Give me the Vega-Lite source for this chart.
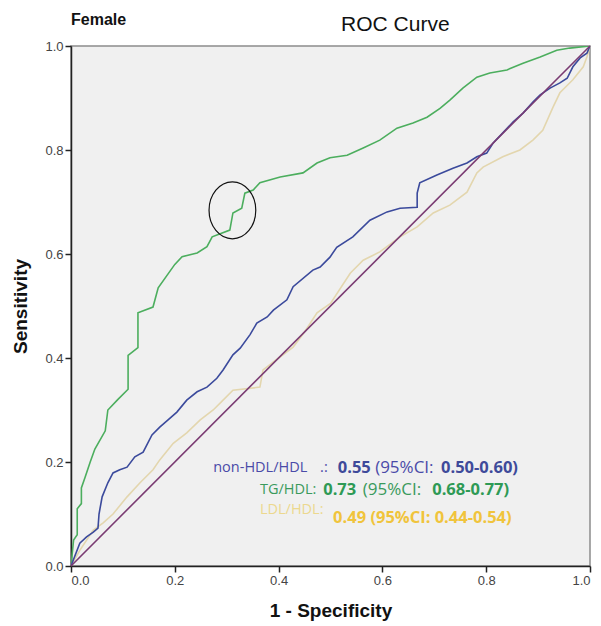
{
  "$schema": "https://vega.github.io/schema/vega-lite/v6.json",
  "width": 519,
  "height": 520,
  "autosize": {"type": "none"},
  "padding": {"left": 71, "top": 46, "right": 11, "bottom": 60},
  "background": "white",
  "config": {
    "view": {"fill": "#f0f0f0", "stroke": "#8c8c8c", "strokeWidth": 1.5},
    "axis": {"domainColor": "#222", "domainWidth": 1.5, "tickColor": "#222", "tickWidth": 1.5, "tickSize": 6, "labelFont": "Liberation Sans", "labelFontSize": 13, "labelColor": "#444", "titleFont": "Liberation Sans", "titleFontSize": 19, "titleFontWeight": "bold", "titleColor": "#111", "grid": false}
  },
  "datasets": {
    "curves": [
      {"series":"TG/HDL","i":0,"fpr":0,"tpr":0},{"series":"TG/HDL","i":1,"fpr":0.005,"tpr":0.05},{"series":"TG/HDL","i":2,"fpr":0.012,"tpr":0.06},{"series":"TG/HDL","i":3,"fpr":0.012,"tpr":0.11},{"series":"TG/HDL","i":4,"fpr":0.02,"tpr":0.12},{"series":"TG/HDL","i":5,"fpr":0.02,"tpr":0.15},{"series":"TG/HDL","i":6,"fpr":0.027,"tpr":0.17},{"series":"TG/HDL","i":7,"fpr":0.037,"tpr":0.2},{"series":"TG/HDL","i":8,"fpr":0.046,"tpr":0.225},{"series":"TG/HDL","i":9,"fpr":0.066,"tpr":0.26},{"series":"TG/HDL","i":10,"fpr":0.071,"tpr":0.3},{"series":"TG/HDL","i":11,"fpr":0.09,"tpr":0.32},{"series":"TG/HDL","i":12,"fpr":0.11,"tpr":0.34},{"series":"TG/HDL","i":13,"fpr":0.11,"tpr":0.405},{"series":"TG/HDL","i":14,"fpr":0.129,"tpr":0.42},{"series":"TG/HDL","i":15,"fpr":0.129,"tpr":0.487},{"series":"TG/HDL","i":16,"fpr":0.158,"tpr":0.498},{"series":"TG/HDL","i":17,"fpr":0.168,"tpr":0.535},{"series":"TG/HDL","i":18,"fpr":0.2,"tpr":0.58},{"series":"TG/HDL","i":19,"fpr":0.214,"tpr":0.595},{"series":"TG/HDL","i":20,"fpr":0.243,"tpr":0.602},{"series":"TG/HDL","i":21,"fpr":0.262,"tpr":0.614},{"series":"TG/HDL","i":22,"fpr":0.272,"tpr":0.633},{"series":"TG/HDL","i":23,"fpr":0.306,"tpr":0.646},{"series":"TG/HDL","i":24,"fpr":0.312,"tpr":0.679},{"series":"TG/HDL","i":25,"fpr":0.329,"tpr":0.688},{"series":"TG/HDL","i":26,"fpr":0.335,"tpr":0.717},{"series":"TG/HDL","i":27,"fpr":0.351,"tpr":0.723},{"series":"TG/HDL","i":28,"fpr":0.364,"tpr":0.737},{"series":"TG/HDL","i":29,"fpr":0.403,"tpr":0.748},{"series":"TG/HDL","i":30,"fpr":0.447,"tpr":0.756},{"series":"TG/HDL","i":31,"fpr":0.474,"tpr":0.775},{"series":"TG/HDL","i":32,"fpr":0.499,"tpr":0.785},{"series":"TG/HDL","i":33,"fpr":0.532,"tpr":0.79},{"series":"TG/HDL","i":34,"fpr":0.563,"tpr":0.804},{"series":"TG/HDL","i":35,"fpr":0.595,"tpr":0.819},{"series":"TG/HDL","i":36,"fpr":0.628,"tpr":0.842},{"series":"TG/HDL","i":37,"fpr":0.659,"tpr":0.852},{"series":"TG/HDL","i":38,"fpr":0.686,"tpr":0.863},{"series":"TG/HDL","i":39,"fpr":0.711,"tpr":0.88},{"series":"TG/HDL","i":40,"fpr":0.73,"tpr":0.896},{"series":"TG/HDL","i":41,"fpr":0.755,"tpr":0.919},{"series":"TG/HDL","i":42,"fpr":0.782,"tpr":0.94},{"series":"TG/HDL","i":43,"fpr":0.807,"tpr":0.948},{"series":"TG/HDL","i":44,"fpr":0.84,"tpr":0.954},{"series":"TG/HDL","i":45,"fpr":0.871,"tpr":0.967},{"series":"TG/HDL","i":46,"fpr":0.904,"tpr":0.979},{"series":"TG/HDL","i":47,"fpr":0.936,"tpr":0.992},{"series":"TG/HDL","i":48,"fpr":0.961,"tpr":0.996},{"series":"TG/HDL","i":49,"fpr":1,"tpr":1},
      {"series":"LDL/HDL","i":0,"fpr":0,"tpr":0},{"series":"LDL/HDL","i":1,"fpr":0.017,"tpr":0.03},{"series":"LDL/HDL","i":2,"fpr":0.043,"tpr":0.069},{"series":"LDL/HDL","i":3,"fpr":0.062,"tpr":0.083},{"series":"LDL/HDL","i":4,"fpr":0.081,"tpr":0.1},{"series":"LDL/HDL","i":5,"fpr":0.108,"tpr":0.133},{"series":"LDL/HDL","i":6,"fpr":0.133,"tpr":0.16},{"series":"LDL/HDL","i":7,"fpr":0.158,"tpr":0.185},{"series":"LDL/HDL","i":8,"fpr":0.171,"tpr":0.204},{"series":"LDL/HDL","i":9,"fpr":0.197,"tpr":0.236},{"series":"LDL/HDL","i":10,"fpr":0.223,"tpr":0.256},{"series":"LDL/HDL","i":11,"fpr":0.249,"tpr":0.281},{"series":"LDL/HDL","i":12,"fpr":0.274,"tpr":0.3},{"series":"LDL/HDL","i":13,"fpr":0.293,"tpr":0.319},{"series":"LDL/HDL","i":14,"fpr":0.312,"tpr":0.338},{"series":"LDL/HDL","i":15,"fpr":0.364,"tpr":0.344},{"series":"LDL/HDL","i":16,"fpr":0.37,"tpr":0.377},{"series":"LDL/HDL","i":17,"fpr":0.4,"tpr":0.4},{"series":"LDL/HDL","i":18,"fpr":0.428,"tpr":0.421},{"series":"LDL/HDL","i":19,"fpr":0.45,"tpr":0.45},{"series":"LDL/HDL","i":20,"fpr":0.474,"tpr":0.487},{"series":"LDL/HDL","i":21,"fpr":0.5,"tpr":0.505},{"series":"LDL/HDL","i":22,"fpr":0.538,"tpr":0.563},{"series":"LDL/HDL","i":23,"fpr":0.563,"tpr":0.588},{"series":"LDL/HDL","i":24,"fpr":0.595,"tpr":0.604},{"series":"LDL/HDL","i":25,"fpr":0.634,"tpr":0.633},{"series":"LDL/HDL","i":26,"fpr":0.667,"tpr":0.652},{"series":"LDL/HDL","i":27,"fpr":0.698,"tpr":0.679},{"series":"LDL/HDL","i":28,"fpr":0.73,"tpr":0.694},{"series":"LDL/HDL","i":29,"fpr":0.763,"tpr":0.719},{"series":"LDL/HDL","i":30,"fpr":0.782,"tpr":0.756},{"series":"LDL/HDL","i":31,"fpr":0.794,"tpr":0.767},{"series":"LDL/HDL","i":32,"fpr":0.832,"tpr":0.787},{"series":"LDL/HDL","i":33,"fpr":0.865,"tpr":0.8},{"series":"LDL/HDL","i":34,"fpr":0.89,"tpr":0.819},{"series":"LDL/HDL","i":35,"fpr":0.909,"tpr":0.838},{"series":"LDL/HDL","i":36,"fpr":0.929,"tpr":0.883},{"series":"LDL/HDL","i":37,"fpr":0.942,"tpr":0.91},{"series":"LDL/HDL","i":38,"fpr":0.967,"tpr":0.935},{"series":"LDL/HDL","i":39,"fpr":0.987,"tpr":0.96},{"series":"LDL/HDL","i":40,"fpr":0.994,"tpr":0.979},{"series":"LDL/HDL","i":41,"fpr":1,"tpr":1},
      {"series":"non-HDL/HDL","i":0,"fpr":0,"tpr":0},{"series":"non-HDL/HDL","i":1,"fpr":0.017,"tpr":0.044},{"series":"non-HDL/HDL","i":2,"fpr":0.03,"tpr":0.056},{"series":"non-HDL/HDL","i":3,"fpr":0.043,"tpr":0.065},{"series":"non-HDL/HDL","i":4,"fpr":0.052,"tpr":0.073},{"series":"non-HDL/HDL","i":5,"fpr":0.054,"tpr":0.1},{"series":"non-HDL/HDL","i":6,"fpr":0.06,"tpr":0.133},{"series":"non-HDL/HDL","i":7,"fpr":0.071,"tpr":0.16},{"series":"non-HDL/HDL","i":8,"fpr":0.081,"tpr":0.179},{"series":"non-HDL/HDL","i":9,"fpr":0.094,"tpr":0.185},{"series":"non-HDL/HDL","i":10,"fpr":0.108,"tpr":0.19},{"series":"non-HDL/HDL","i":11,"fpr":0.123,"tpr":0.21},{"series":"non-HDL/HDL","i":12,"fpr":0.139,"tpr":0.219},{"series":"non-HDL/HDL","i":13,"fpr":0.156,"tpr":0.252},{"series":"non-HDL/HDL","i":14,"fpr":0.171,"tpr":0.267},{"series":"non-HDL/HDL","i":15,"fpr":0.187,"tpr":0.281},{"series":"non-HDL/HDL","i":16,"fpr":0.204,"tpr":0.296},{"series":"non-HDL/HDL","i":17,"fpr":0.223,"tpr":0.319},{"series":"non-HDL/HDL","i":18,"fpr":0.243,"tpr":0.335},{"series":"non-HDL/HDL","i":19,"fpr":0.262,"tpr":0.344},{"series":"non-HDL/HDL","i":20,"fpr":0.281,"tpr":0.361},{"series":"non-HDL/HDL","i":21,"fpr":0.293,"tpr":0.377},{"series":"non-HDL/HDL","i":22,"fpr":0.312,"tpr":0.406},{"series":"non-HDL/HDL","i":23,"fpr":0.326,"tpr":0.419},{"series":"non-HDL/HDL","i":24,"fpr":0.345,"tpr":0.445},{"series":"non-HDL/HDL","i":25,"fpr":0.358,"tpr":0.467},{"series":"non-HDL/HDL","i":26,"fpr":0.378,"tpr":0.479},{"series":"non-HDL/HDL","i":27,"fpr":0.39,"tpr":0.492},{"series":"non-HDL/HDL","i":28,"fpr":0.416,"tpr":0.512},{"series":"non-HDL/HDL","i":29,"fpr":0.428,"tpr":0.537},{"series":"non-HDL/HDL","i":30,"fpr":0.466,"tpr":0.569},{"series":"non-HDL/HDL","i":31,"fpr":0.48,"tpr":0.575},{"series":"non-HDL/HDL","i":32,"fpr":0.499,"tpr":0.594},{"series":"non-HDL/HDL","i":33,"fpr":0.512,"tpr":0.613},{"series":"non-HDL/HDL","i":34,"fpr":0.543,"tpr":0.633},{"series":"non-HDL/HDL","i":35,"fpr":0.576,"tpr":0.665},{"series":"non-HDL/HDL","i":36,"fpr":0.609,"tpr":0.681},{"series":"non-HDL/HDL","i":37,"fpr":0.634,"tpr":0.688},{"series":"non-HDL/HDL","i":38,"fpr":0.667,"tpr":0.69},{"series":"non-HDL/HDL","i":39,"fpr":0.667,"tpr":0.717},{"series":"non-HDL/HDL","i":40,"fpr":0.672,"tpr":0.737},{"series":"non-HDL/HDL","i":41,"fpr":0.705,"tpr":0.752},{"series":"non-HDL/HDL","i":42,"fpr":0.736,"tpr":0.765},{"series":"non-HDL/HDL","i":43,"fpr":0.763,"tpr":0.775},{"series":"non-HDL/HDL","i":44,"fpr":0.782,"tpr":0.787},{"series":"non-HDL/HDL","i":45,"fpr":0.801,"tpr":0.794},{"series":"non-HDL/HDL","i":46,"fpr":0.813,"tpr":0.813},{"series":"non-HDL/HDL","i":47,"fpr":0.832,"tpr":0.833},{"series":"non-HDL/HDL","i":48,"fpr":0.852,"tpr":0.854},{"series":"non-HDL/HDL","i":49,"fpr":0.871,"tpr":0.871},{"series":"non-HDL/HDL","i":50,"fpr":0.89,"tpr":0.892},{"series":"non-HDL/HDL","i":51,"fpr":0.904,"tpr":0.906},{"series":"non-HDL/HDL","i":52,"fpr":0.923,"tpr":0.919},{"series":"non-HDL/HDL","i":53,"fpr":0.942,"tpr":0.929},{"series":"non-HDL/HDL","i":54,"fpr":0.956,"tpr":0.938},{"series":"non-HDL/HDL","i":55,"fpr":0.967,"tpr":0.96},{"series":"non-HDL/HDL","i":56,"fpr":0.981,"tpr":0.977},{"series":"non-HDL/HDL","i":57,"fpr":0.994,"tpr":0.986},{"series":"non-HDL/HDL","i":58,"fpr":1,"tpr":1}
    ],
    "labels": [
      {"series":"non-HDL/HDL","part":"name","text":"non-HDL/HDL","fpr":0.274,"tpr":0.188},
      {"series":"non-HDL/HDL","part":"name","text":".:","fpr":0.48,"tpr":0.188},
      {"series":"non-HDL/HDL","part":"value","text":"0.55","fpr":0.514,"tpr":0.188},
      {"series":"non-HDL/HDL","part":"ci","text":"(95%CI:","fpr":0.586,"tpr":0.188},
      {"series":"non-HDL/HDL","part":"value","text":"0.50-0.60)","fpr":0.713,"tpr":0.188},
      {"series":"TG/HDL","part":"name","text":"TG/HDL:","fpr":0.364,"tpr":0.146},
      {"series":"TG/HDL","part":"value","text":"0.73","fpr":0.486,"tpr":0.146},
      {"series":"TG/HDL","part":"ci","text":"(95%CI:","fpr":0.562,"tpr":0.146},
      {"series":"TG/HDL","part":"value","text":"0.68-0.77)","fpr":0.696,"tpr":0.146},
      {"series":"LDL/HDL","part":"name","text":"LDL/HDL:","fpr":0.364,"tpr":0.108},
      {"series":"LDL/HDL","part":"value","text":"0.49 (95%CI: 0.44-0.54)","fpr":0.505,"tpr":0.092}
    ]
  },
  "layer": [
    {
      "data": {"name": "curves"},
      "mark": {"type": "line", "strokeWidth": 1.6, "clip": true},
      "encoding": {
        "x": {"field": "fpr", "type": "quantitative", "scale": {"domain": [0, 1], "nice": false, "zero": false}, "axis": {"values": [0, 0.2, 0.4, 0.6, 0.8, 1], "format": ".1f", "labelPadding": 2, "titlePadding": 14}, "title": "1 - Specificity"},
        "y": {"field": "tpr", "type": "quantitative", "scale": {"domain": [0, 1], "nice": false, "zero": false}, "axis": {"values": [0, 0.2, 0.4, 0.6, 0.8, 1], "format": ".1f", "labelPadding": 2, "titlePadding": 14}, "title": "Sensitivity"},
        "color": {"field": "series", "type": "nominal", "scale": {"domain": ["non-HDL/HDL", "TG/HDL", "LDL/HDL"], "range": ["#3b4a9c", "#4cae5e", "#e3d6ae"]}, "legend": null},
        "detail": {"field": "series"},
        "order": {"field": "i", "type": "quantitative"}
      }
    },
    {
      "data": {"values": [{"fpr": 0, "tpr": 0}, {"fpr": 1, "tpr": 1}]},
      "mark": {"type": "line", "color": "#7a3b72", "strokeWidth": 1.6},
      "encoding": {"x": {"field": "fpr", "type": "quantitative"}, "y": {"field": "tpr", "type": "quantitative"}}
    },
    {
      "data": {"values": [{"fpr": 0.311, "tpr": 0.684}]},
      "mark": {"type": "point", "shape": "M -0.82 0 A 0.82 1 0 1 0 0.82 0 A 0.82 1 0 1 0 -0.82 0 Z", "size": 3249, "filled": false, "stroke": "#111", "strokeWidth": 1.2, "opacity": 1},
      "encoding": {"x": {"field": "fpr", "type": "quantitative"}, "y": {"field": "tpr", "type": "quantitative"}}
    },
    {
      "data": {"name": "labels"},
      "transform": [{"filter": "datum.part == 'name'"}],
      "mark": {"type": "text", "align": "left", "baseline": "middle", "font": "Open Sans", "fontSize": 14.5, "fontWeight": "normal"},
      "encoding": {
        "x": {"field": "fpr", "type": "quantitative"},
        "y": {"field": "tpr", "type": "quantitative"},
        "text": {"field": "text"},
        "color": {"field": "series", "type": "nominal", "scale": {"domain": ["non-HDL/HDL", "TG/HDL", "LDL/HDL"], "range": ["#4a4aa8", "#3a9a5c", "#ecd88e"]}, "legend": null}
      }
    },
    {
      "data": {"name": "labels"},
      "transform": [{"filter": "datum.part == 'ci'"}],
      "mark": {"type": "text", "align": "left", "baseline": "middle", "font": "Open Sans", "fontSize": 17, "fontWeight": "normal"},
      "encoding": {
        "x": {"field": "fpr", "type": "quantitative"},
        "y": {"field": "tpr", "type": "quantitative"},
        "text": {"field": "text"},
        "color": {"field": "series", "type": "nominal", "scale": {"domain": ["non-HDL/HDL", "TG/HDL", "LDL/HDL"], "range": ["#4a4aa8", "#3a9a5c", "#ecd88e"]}, "legend": null}
      }
    },
    {
      "data": {"name": "labels"},
      "transform": [{"filter": "datum.part == 'value'"}],
      "mark": {"type": "text", "align": "left", "baseline": "middle", "font": "Open Sans", "fontSize": 16.5, "fontWeight": "bold"},
      "encoding": {
        "x": {"field": "fpr", "type": "quantitative"},
        "y": {"field": "tpr", "type": "quantitative"},
        "text": {"field": "text"},
        "color": {"field": "series", "type": "nominal", "scale": {"domain": ["non-HDL/HDL", "TG/HDL", "LDL/HDL"], "range": ["#3e4a9a", "#2e9a55", "#f0c43c"]}, "legend": null}
      }
    },
    {
      "data": {"values": [{"fpr": 0, "tpr": 1.05, "text": "Female"}]},
      "mark": {"type": "text", "align": "left", "baseline": "middle", "font": "Liberation Sans", "fontSize": 16, "fontWeight": "bold", "color": "#111", "clip": false},
      "encoding": {"x": {"field": "fpr", "type": "quantitative"}, "y": {"field": "tpr", "type": "quantitative"}, "text": {"field": "text"}}
    },
    {
      "data": {"values": [{"fpr": 0.625, "tpr": 1.04, "text": "ROC Curve"}]},
      "mark": {"type": "text", "align": "center", "baseline": "middle", "font": "Liberation Sans", "fontSize": 21, "fontWeight": "normal", "color": "#111", "clip": false},
      "encoding": {"x": {"field": "fpr", "type": "quantitative"}, "y": {"field": "tpr", "type": "quantitative"}, "text": {"field": "text"}}
    }
  ],
  "resolve": {"scale": {"color": "independent"}}
}
